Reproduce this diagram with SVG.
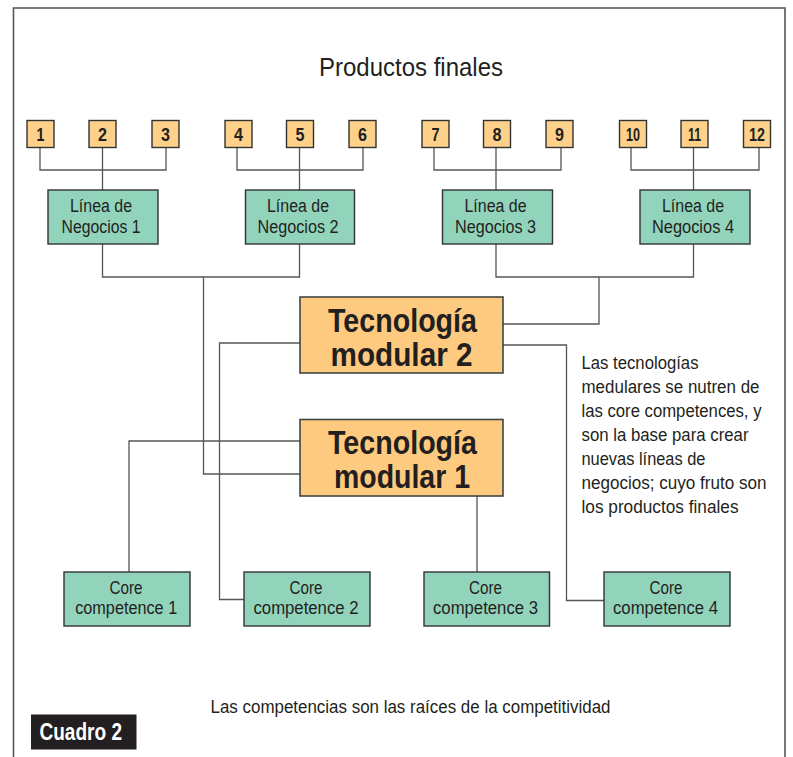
<svg xmlns="http://www.w3.org/2000/svg" width="793" height="757" viewBox="0 0 793 757">
<style>
text{font-family:"Liberation Sans",Arial,sans-serif;fill:#231f20}
.num{font-size:19px;font-weight:bold;text-anchor:middle}
.lab{font-size:18px;text-anchor:middle}
.big{font-size:34px;font-weight:bold;text-anchor:middle}
.para{font-size:17.5px}
.pbox{fill:#fdd18a;stroke:#333;stroke-width:1.4}
.gbox{fill:#92d3bc;stroke:#333;stroke-width:1.4}
.tbox{fill:#fdca7f;stroke:#444;stroke-width:1.6}
.con{fill:none;stroke:#555;stroke-width:1.3}
</style>
<rect width="793" height="757" fill="#fff"/>
<path d="M13.5,757 V8 H785 V757" fill="none" stroke="#555" stroke-width="1.6"/>
<text x="411" y="76" style="font-size:26px;text-anchor:middle" textLength="184" lengthAdjust="spacingAndGlyphs">Productos finales</text>

<g id="connectors" class="con">
<path d="M40,147 V170 H166 V147 M102.5,147 V190"/>
<path d="M237,147 V170 H363 V147 M299.5,147 V190"/>
<path d="M434,147 V170 H561 V147 M496,147 V190"/>
<path d="M631,147 V170 H759 V147 M693.5,147 V190"/>
<path d="M102.5,244 V277 H299.5 V244 M203.5,277 V474 H300"/>
<path d="M496,244 V277 H693.5 V244 M599,277 V324 H503"/>
<path d="M300,343 H219.5 V599.5 H244"/>
<path d="M503,345 H566.5 V600.5 H604"/>
<path d="M300,441 H129 V572"/>
<path d="M477,496 V572"/>
</g>

<g id="p1"><rect class="pbox" x="27" y="120.5" width="27" height="27"/><text class="num" x="40.5" y="141" textLength="8" lengthAdjust="spacingAndGlyphs">1</text></g>
<g id="p2"><rect class="pbox" x="89" y="120.5" width="27" height="27"/><text class="num" x="102.5" y="141" textLength="9" lengthAdjust="spacingAndGlyphs">2</text></g>
<g id="p3"><rect class="pbox" x="152" y="120.5" width="27" height="27"/><text class="num" x="165.5" y="141" textLength="9" lengthAdjust="spacingAndGlyphs">3</text></g>
<g id="p4"><rect class="pbox" x="225" y="120.5" width="27" height="27"/><text class="num" x="238.5" y="141" textLength="9" lengthAdjust="spacingAndGlyphs">4</text></g>
<g id="p5"><rect class="pbox" x="286.5" y="120.5" width="27" height="27"/><text class="num" x="300" y="141" textLength="9" lengthAdjust="spacingAndGlyphs">5</text></g>
<g id="p6"><rect class="pbox" x="349" y="120.5" width="27" height="27"/><text class="num" x="362.5" y="141" textLength="9" lengthAdjust="spacingAndGlyphs">6</text></g>
<g id="p7"><rect class="pbox" x="422" y="120.5" width="27" height="27"/><text class="num" x="435.5" y="141" textLength="8" lengthAdjust="spacingAndGlyphs">7</text></g>
<g id="p8"><rect class="pbox" x="483.5" y="120.5" width="27" height="27"/><text class="num" x="497" y="141" textLength="9" lengthAdjust="spacingAndGlyphs">8</text></g>
<g id="p9"><rect class="pbox" x="546" y="120.5" width="27" height="27"/><text class="num" x="559.5" y="141" textLength="9" lengthAdjust="spacingAndGlyphs">9</text></g>
<g id="p10"><rect class="pbox" x="619.5" y="120.5" width="27" height="27"/><text class="num" x="633" y="141" textLength="14" lengthAdjust="spacingAndGlyphs">10</text></g>
<g id="p11"><rect class="pbox" x="681" y="120.5" width="27" height="27"/><text class="num" x="694.5" y="141" textLength="13" lengthAdjust="spacingAndGlyphs">11</text></g>
<g id="p12"><rect class="pbox" x="743.5" y="120.5" width="27" height="27"/><text class="num" x="757" y="141" textLength="16" lengthAdjust="spacingAndGlyphs">12</text></g>

<g id="ln1"><rect class="gbox" x="48" y="190" width="110" height="54"/><text class="lab" x="101" y="212" textLength="62" lengthAdjust="spacingAndGlyphs">Línea de</text><text class="lab" x="101" y="232.5" textLength="79" lengthAdjust="spacingAndGlyphs">Negocios 1</text></g>
<g id="ln2"><rect class="gbox" x="245.5" y="190" width="109" height="54"/><text class="lab" x="298" y="212" textLength="62" lengthAdjust="spacingAndGlyphs">Línea de</text><text class="lab" x="298" y="232.5" textLength="81" lengthAdjust="spacingAndGlyphs">Negocios 2</text></g>
<g id="ln3"><rect class="gbox" x="442.5" y="190" width="110" height="54"/><text class="lab" x="495.5" y="212" textLength="62" lengthAdjust="spacingAndGlyphs">Línea de</text><text class="lab" x="495.5" y="232.5" textLength="81" lengthAdjust="spacingAndGlyphs">Negocios 3</text></g>
<g id="ln4"><rect class="gbox" x="640" y="190" width="110" height="54"/><text class="lab" x="693" y="212" textLength="62" lengthAdjust="spacingAndGlyphs">Línea de</text><text class="lab" x="693" y="232.5" textLength="82" lengthAdjust="spacingAndGlyphs">Negocios 4</text></g>

<g id="tm2"><rect class="tbox" x="300" y="297" width="203" height="76"/><text class="big" x="402.5" y="331.5" textLength="149" lengthAdjust="spacingAndGlyphs">Tecnología</text><text class="big" x="401.5" y="366" textLength="142" lengthAdjust="spacingAndGlyphs">modular 2</text></g>
<g id="tm1"><rect class="tbox" x="300" y="419.5" width="203" height="76.5"/><text class="big" x="402.5" y="453.5" textLength="149" lengthAdjust="spacingAndGlyphs">Tecnología</text><text class="big" x="402" y="488" textLength="136" lengthAdjust="spacingAndGlyphs">modular 1</text></g>

<g id="cc1"><rect class="gbox" x="64" y="572" width="126" height="54"/><text class="lab" x="126" y="593.5" textLength="33" lengthAdjust="spacingAndGlyphs">Core</text><text class="lab" x="126.2" y="614" textLength="102" lengthAdjust="spacingAndGlyphs">competence 1</text></g>
<g id="cc2"><rect class="gbox" x="244" y="572" width="126" height="54"/><text class="lab" x="306" y="593.5" textLength="33" lengthAdjust="spacingAndGlyphs">Core</text><text class="lab" x="306" y="614" textLength="105" lengthAdjust="spacingAndGlyphs">competence 2</text></g>
<g id="cc3"><rect class="gbox" x="424" y="572" width="125.5" height="54"/><text class="lab" x="485.5" y="593.5" textLength="33" lengthAdjust="spacingAndGlyphs">Core</text><text class="lab" x="485.5" y="614" textLength="105" lengthAdjust="spacingAndGlyphs">competence 3</text></g>
<g id="cc4"><rect class="gbox" x="604" y="572" width="126" height="54"/><text class="lab" x="666" y="593.5" textLength="33" lengthAdjust="spacingAndGlyphs">Core</text><text class="lab" x="665.5" y="614" textLength="105" lengthAdjust="spacingAndGlyphs">competence 4</text></g>

<g id="note" class="para">
<text x="581.5" y="368.5" textLength="117" lengthAdjust="spacingAndGlyphs">Las tecnologías</text>
<text x="581.5" y="392.5" textLength="178" lengthAdjust="spacingAndGlyphs">medulares se nutren de</text>
<text x="581.5" y="416.5" textLength="180" lengthAdjust="spacingAndGlyphs">las core competences, y</text>
<text x="581.5" y="440.5" textLength="167" lengthAdjust="spacingAndGlyphs">son la base para crear</text>
<text x="581.5" y="464.5" textLength="124" lengthAdjust="spacingAndGlyphs">nuevas líneas de</text>
<text x="581.5" y="488.5" textLength="185" lengthAdjust="spacingAndGlyphs">negocios; cuyo fruto son</text>
<text x="581.5" y="512.5" textLength="157" lengthAdjust="spacingAndGlyphs">los productos finales</text>
</g>

<text class="para" x="210.5" y="713" textLength="400" lengthAdjust="spacingAndGlyphs">Las competencias son las raíces de la competitividad</text>

<g id="cuadro">
<rect x="31" y="714.5" width="105.5" height="35" fill="#231f20"/>
<text x="39.5" y="740" style="font-size:23px;font-weight:bold;fill:#fff" textLength="82.5" lengthAdjust="spacingAndGlyphs">Cuadro 2</text>
</g>
</svg>
